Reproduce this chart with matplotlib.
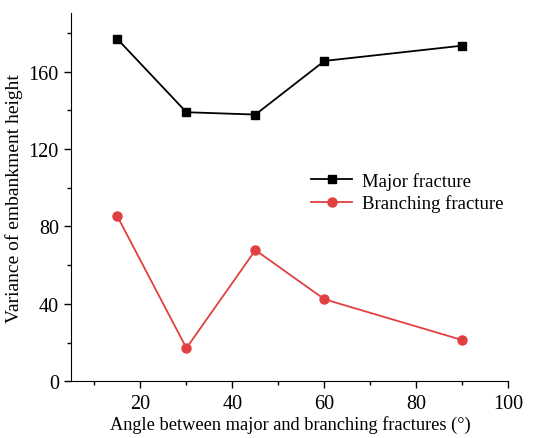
import matplotlib.pyplot as plt
from matplotlib.ticker import MultipleLocator

# ====== DATA ======
angles = [15, 30, 45, 60, 90]
major = [176.8, 139.0, 137.8, 165.5, 173.4]
branching = [85.2, 17.2, 67.8, 42.4, 21.3]
# ==================

plt.rcParams['font.family'] = ['Liberation Serif', 'DejaVu Serif']
plt.rcParams['font.size'] = 13

fig = plt.figure(figsize=(5.45, 4.39), dpi=100)
ax = fig.add_axes([0.131, 0.129, 0.802, 0.838])

ax.plot(angles, major, color='black', marker='s', markersize=6, linewidth=1.3,
        label='Major fracture')
ax.plot(angles, branching, color='#e04040', marker='o', markersize=6.5, linewidth=1.3,
        label='Branching fracture')

ax.set_xlim(5, 100)
ax.set_ylim(0, 190)
ax.xaxis.set_major_locator(MultipleLocator(20))
ax.xaxis.set_minor_locator(MultipleLocator(10))
ax.yaxis.set_major_locator(MultipleLocator(40))
ax.yaxis.set_minor_locator(MultipleLocator(20))
ax.set_xticks([20, 40, 60, 80, 100])

for s in ['top', 'right']:
    ax.spines[s].set_visible(False)
ax.tick_params(which='major', direction='out', length=5, width=1, labelsize=14.5, pad=4)
ax.tick_params(which='minor', direction='out', length=3, width=1)

ax.set_xlabel('Angle between major and branching fractures (°)', fontsize=13.2, labelpad=1.5)
ax.set_ylabel('Variance of embankment height', fontsize=14, labelpad=4)

ax.legend(loc='upper left', bbox_to_anchor=(0.51, 0.615), frameon=False,
          handlelength=2.2, handletextpad=0.5, labelspacing=0.25, fontsize=13.5)

fig.savefig('out.png', dpi=100)
